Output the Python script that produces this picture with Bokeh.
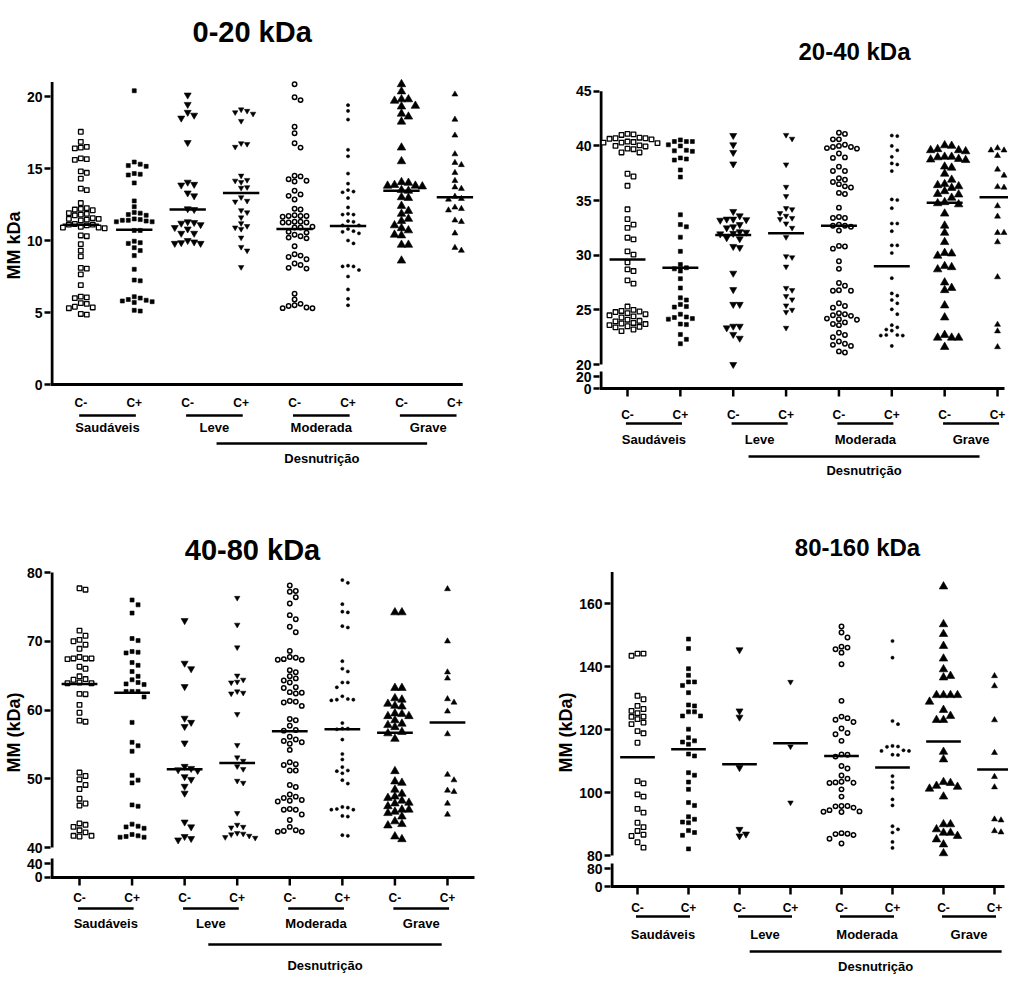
import numpy as np
from bokeh.plotting import figure
from bokeh.layouts import column, row
from bokeh.models import FixedTicker, Range1d
from bokeh.core.properties import value
from bokeh.embed import file_html
from bokeh.resources import INLINE

FONT = "Liberation Sans"

# ---------------- data ----------------
categories = ["C-", "C+", "C-", "C+", "C-", "C+", "C-", "C+"]
groups = ["Saudáveis", "Leve", "Moderada", "Grave"]
supergroup = "Desnutrição"
titles = ["0-20 kDa", "20-40 kDa", "40-80 kDa", "80-160 kDa"]
y_labels = ["MM kDa", "", "MM (kDa)", "MM (kDa)"]
y_ticks_p1 = [0, 5, 10, 15, 20]
y_ticks_p2 = [20, 25, 30, 35, 40, 45]
y_ticks_p3 = [40, 50, 60, 70, 80]
y_ticks_p4 = [80, 100, 120, 140, 160]
break_labels = [None, ("20", "0"), ("40", "0"), ("80", "0")]

# Panel 1: 0-20 kDa
p1_saud_neg = [17.55, 16.85, 16.45, 16.4, 16.5, 15.65, 15.6, 15.7, 14.8, 14.7, 14.3, 13.6, 13.5, 12.6, 12.2,
               12.25, 12.1, 12.15, 11.8, 11.85, 11.75, 11.9, 11.5, 11.45, 11.55, 11.5, 11.4, 11.1, 11.15, 11.05,
               11.1, 10.9, 10.95, 10.85, 10.9, 10.3, 10.35, 9.75, 9.3, 8.9, 8.1, 8.05, 7.65, 6.9, 6.05, 6.0, 6.1,
               5.65, 5.6, 5.35, 5.3, 5.4, 4.9, 4.85]
p1_saud_pos = [20.4, 15.45, 15.3, 15.2, 15.15, 14.6, 14.55, 14.65, 14.0, 12.75, 12.35, 11.9, 11.8, 11.75, 11.95,
               11.4, 11.3, 11.35, 11.4, 11.45, 11.3, 11.5, 10.7, 10.7, 9.95, 9.85, 9.8, 9.5, 9.3, 8.95, 8.0, 7.25,
               7.2, 6.1, 6.0, 5.85, 5.8, 5.75, 5.7, 5.9, 5.15, 5.1]
p1_leve_neg = [20.1, 19.45, 18.9, 18.7, 18.5, 16.8, 13.9, 13.85, 14.05, 13.3, 13.1, 12.2, 12.15, 11.3, 11.2, 11.1,
               11.25, 10.9, 10.8, 10.5, 10.5, 10.0, 9.9, 9.8, 9.8, 9.85]
p1_leve_pos = [19.1, 18.9, 18.8, 19.0, 18.3, 16.7, 16.5, 16.75, 14.5, 14.2, 14.05, 14.15, 13.7, 13.65, 13.0, 12.7,
               12.75, 12.1, 11.95, 11.6, 11.2, 11.0, 10.8, 10.9, 10.2, 9.55, 9.3, 8.15]
p1_mod_neg = [20.85, 19.95, 19.75, 17.9, 17.45, 16.75, 16.45, 14.5, 14.45, 14.1, 14.15, 14.25, 13.45, 13.2, 13.1,
              12.85, 12.15, 12.2, 11.7, 11.65, 11.7, 11.7, 11.75, 11.25, 11.3, 11.3, 11.25, 11.25, 10.9, 10.95,
              10.9, 10.6, 10.55, 10.4, 10.2, 10.3, 10.15, 9.6, 9.05, 8.95, 8.85, 8.7, 8.4, 8.3, 8.1, 8.05, 6.3,
              5.9, 5.6, 5.45, 5.3, 5.3, 5.35, 5.5]
p1_mod_pos = [19.4, 19.0, 18.4, 16.3, 15.85, 14.65, 13.95, 13.4, 13.5, 13.35, 12.95, 12.3, 11.8, 11.85, 11.8,
              11.35, 11.3, 11.05, 11.05, 10.8, 10.6, 10.65, 10.5, 10.0, 9.8, 8.25, 8.2, 7.95, 8.2, 7.5, 6.6,
              5.95, 5.5]
p1_grave_neg = [20.85, 20.35, 19.8, 19.7, 19.8, 19.35, 19.3, 18.8, 18.6, 18.25, 16.45, 15.5, 14.05, 14.0, 13.8,
                13.8, 13.75, 13.85, 13.5, 13.45, 13.0, 12.95, 12.4, 12.05, 11.85, 11.5, 11.35, 11.05, 10.85,
                10.7, 10.35, 10.4, 9.7, 9.7, 8.6]
p1_grave_pos = [20.15, 18.4, 17.3, 16.0, 15.4, 15.25, 14.7, 14.15, 13.7, 13.6, 13.05, 12.9, 12.85, 12.3, 12.2,
                12.1, 11.4, 11.3, 10.5, 9.5, 9.3]
p1_medians = [11.1, 10.75, 12.15, 13.3, 10.8, 11.0, 13.45, 13.0]

# Panel 2: 20-40 kDa
p2_saud_neg = [41.1, 41.0, 41.05, 40.7, 40.75, 40.6, 40.7, 40.65, 40.3, 40.35, 40.25, 40.3, 40.4, 40.0, 40.05,
               39.95, 39.7, 39.75, 39.4, 39.4, 37.45, 37.2, 36.35, 34.2, 33.3, 32.8, 32.5, 31.6, 31.45, 30.35,
               30.05, 29.35, 28.7, 28.55, 27.7, 27.4, 25.3, 25.0, 24.9, 24.85, 24.8, 24.7, 24.6, 24.5, 24.4,
               24.3, 24.1, 24.0, 23.95, 23.8, 23.7, 23.75, 23.6, 23.5, 23.45, 23.4, 23.2, 23.05]
p2_saud_pos = [40.55, 40.4, 40.4, 40.4, 40.1, 40.0, 39.6, 39.5, 39.55, 38.9, 38.8, 38.7, 37.8, 37.15, 33.7, 32.8,
               32.6, 31.65, 30.35, 29.15, 28.85, 28.75, 28.55, 27.85, 27.0, 26.1, 25.9, 25.5, 25.3, 25.25, 24.6,
               24.3, 24.2, 24.15, 24.35, 23.65, 23.7, 22.75, 22.3, 21.9]
p2_leve_neg = [40.95, 40.1, 39.4, 38.35, 34.0, 33.6, 33.3, 33.2, 33.25, 33.3, 32.8, 32.6, 32.5, 32.1, 32.15, 32.0,
               31.95, 31.6, 31.5, 30.8, 30.7, 28.35, 26.85, 25.5, 25.5, 23.5, 23.35, 23.5, 22.75, 22.4, 20.0]
p2_leve_pos = [41.0, 40.65, 38.3, 36.25, 35.4, 34.3, 34.2, 33.85, 33.4, 33.3, 33.6, 32.9, 32.5, 31.65, 29.9, 29.8,
               28.95, 27.0, 26.8, 26.25, 25.95, 25.4, 25.0, 24.8, 23.35]
p2_mod_neg = [41.2, 41.1, 40.6, 40.6, 40.0, 40.1, 39.9, 39.8, 39.75, 39.9, 39.3, 38.9, 38.95, 38.1, 37.7, 37.7,
              37.05, 36.7, 36.9, 36.5, 36.3, 36.2, 35.6, 35.7, 34.35, 33.5, 33.4, 33.4, 32.8, 32.7, 32.6, 32.7,
              32.25, 30.85, 30.6, 30.8, 29.45, 28.75, 27.45, 27.2, 26.8, 26.75, 26.75, 25.6, 25.2, 25.35, 24.7,
              24.5, 24.6, 24.45, 24.2, 24.1, 24.15, 23.85, 23.7, 23.6, 22.9, 22.7, 22.5, 22.1, 21.9, 21.8, 21.7,
              21.2, 21.1]
p2_mod_pos = [40.9, 40.95, 40.0, 39.6, 39.0, 38.4, 38.3, 37.7, 35.1, 35.05, 34.3, 32.9, 32.9, 32.2, 30.9, 30.9,
              30.2, 27.9, 26.5, 26.3, 25.9, 25.6, 25.05, 24.6, 23.6, 23.2, 23.1, 23.4, 22.65, 22.7, 22.65, 22.7,
              21.7]
p2_grave_neg = [40.05, 40.0, 39.7, 39.6, 39.5, 39.6, 39.0, 38.95, 39.0, 38.75, 38.7, 38.8, 38.1, 38.0, 37.45,
                36.9, 36.5, 36.3, 36.15, 36.4, 35.85, 35.55, 35.6, 35.25, 34.85, 34.75, 34.65, 33.8, 32.7, 32.05,
                31.2, 30.15, 29.95, 30.2, 29.0, 28.7, 28.9, 27.5, 27.0, 26.8, 25.4, 24.3, 22.7, 22.45, 22.45,
                22.45, 21.6]
p2_grave_pos = [39.8, 39.6, 39.6, 39.1, 37.85, 37.3, 36.25, 36.2, 34.5, 33.55, 32.05, 32.05, 31.2, 28.0, 23.65,
                23.05, 21.6]
p2_medians = [29.6, 28.85, 31.85, 32.0, 32.7, 29.0, 34.8, 35.3]

# Panel 3: 40-80 kDa
p3_saud_neg = [77.7, 77.5, 71.55, 70.8, 70.2, 70.0, 69.5, 68.9, 67.7, 67.5, 67.4, 67.5, 67.5, 66.3, 66.0, 64.9,
               64.5, 64.4, 64.0, 63.9, 63.9, 62.35, 62.3, 60.75, 59.6, 58.45, 58.3, 50.9, 50.4, 49.9, 49.1, 48.5,
               47.1, 46.4, 46.1, 43.5, 43.3, 43.0, 42.5, 42.2, 41.7, 41.6, 41.7]
p3_saud_pos = [76.0, 75.3, 74.1, 70.4, 70.1, 68.5, 68.3, 68.4, 66.9, 66.5, 65.6, 64.9, 64.4, 64.0, 63.8, 63.7,
               62.7, 62.7, 62.7, 61.9, 58.2, 55.3, 54.8, 54.0, 50.5, 49.8, 49.4, 46.2, 46.0, 43.4, 43.0, 42.8,
               43.1, 41.9, 41.6, 41.5, 41.5, 41.7]
p3_leve_neg = [73.0, 66.8, 66.0, 63.4, 58.8, 58.2, 57.6, 55.2, 51.8, 51.3, 51.5, 51.2, 50.3, 49.9, 48.9, 47.9,
               43.7, 43.0, 41.6, 41.1, 41.3]
p3_leve_pos = [76.3, 72.4, 69.1, 65.0, 64.4, 64.1, 64.0, 62.7, 62.5, 62.4, 59.4, 54.9, 53.1, 52.6, 51.8, 51.4,
               49.7, 49.4, 45.0, 43.3, 43.0, 42.9, 42.0, 41.7, 41.4, 41.5, 41.9, 42.1]
p3_mod_neg = [78.1, 77.2, 77.3, 76.4, 75.5, 73.8, 73.2, 72.1, 71.3, 68.6, 67.7, 67.3, 67.3, 67.4, 67.6, 65.8,
              65.5, 64.9, 64.6, 64.3, 64.0, 63.2, 63.3, 62.6, 62.5, 62.4, 61.2, 61.3, 61.1, 60.6, 58.7, 58.5,
              57.7, 57.1, 57.0, 56.1, 55.7, 55.5, 55.1, 55.3, 54.2, 52.4, 52.1, 52.0, 51.2, 51.2, 49.1, 48.8,
              47.7, 47.4, 46.8, 46.9, 46.7, 47.2, 45.5, 45.5, 45.6, 44.8, 44.0, 43.0, 42.3, 42.4, 42.5, 42.3]
p3_mod_pos = [78.9, 78.5, 75.4, 74.3, 74.2, 72.2, 72.0, 67.1, 66.0, 65.6, 64.0, 63.3, 64.0, 62.0, 61.5, 61.4,
              61.5, 61.6, 58.1, 57.3, 57.2, 57.3, 55.7, 53.6, 52.8, 51.7, 51.1, 51.2, 50.8, 49.8, 49.3, 45.9,
              45.5, 45.6, 45.5, 45.8, 44.5, 44.6, 41.8, 41.7]
p3_grave_neg = [74.2, 74.2, 63.2, 63.2, 61.7, 61.5, 60.9, 60.5, 60.6, 59.5, 59.1, 59.4, 59.1, 58.5, 57.8, 58.0,
                57.5, 56.8, 56.6, 55.8, 51.1, 49.6, 49.4, 48.4, 47.8, 47.4, 47.2, 46.8, 46.5, 46.4, 46.0, 45.5,
                45.0, 45.5, 45.2, 44.5, 43.8, 43.4, 43.2, 41.6, 41.2]
p3_grave_pos = [77.6, 70.0, 65.5, 64.6, 61.6, 61.1, 59.8, 56.5, 50.6, 49.8, 48.3, 48.1, 46.4, 44.8]
p3_medians = [63.8, 62.5, 51.4, 52.3, 56.9, 57.2, 56.7, 58.2]

# Panel 4: 80-160 kDa
p4_saud_neg = [144.1, 143.4, 144.1, 130.7, 129.6, 127.5, 126.5, 125.9, 125.2, 124.1, 123.3, 124.0, 122.2, 121.7,
               119.5, 118.8, 115.8, 103.6, 102.9, 99.4, 98.7, 94.8, 93.6, 90.4, 89.0, 87.8, 86.2, 86.6, 84.2, 82.5]
p4_saud_pos = [148.7, 145.7, 139.3, 137.2, 135.1, 135.1, 134.0, 131.7, 127.8, 127.5, 125.6, 125.6, 124.3, 124.3,
               120.1, 117.4, 116.4, 116.0, 115.3, 112.2, 111.6, 106.3, 105.5, 103.3, 101.0, 96.8, 95.9, 92.3,
               91.5, 90.4, 90.6, 87.9, 86.4, 87.3, 82.1]
p4_leve_neg = [145.3, 125.9, 123.9, 107.9, 88.3, 86.2, 86.8]
p4_leve_pos = [135.1, 114.6, 96.8]
p4_mod_neg = [152.7, 150.8, 149.2, 146.3, 145.5, 146.0, 144.4, 140.7, 129.1, 124.1, 123.1, 122.4, 123.6, 120.3,
              118.9, 118.5, 116.4, 112.1, 112.0, 111.4, 108.4, 107.6, 105.4, 104.4, 103.2, 103.4, 103.0, 103.1,
              101.0, 98.7, 95.7, 95.6, 95.7, 95.2, 94.4, 93.8, 93.9, 94.0, 87.1, 86.9, 86.5, 86.8, 85.3, 83.8]
p4_mod_pos = [148.1, 142.8, 122.7, 121.7, 114.5, 114.6, 114.8, 113.2, 113.2, 113.4, 111.9, 112.0, 105.2, 103.3,
              101.5, 97.8, 95.9, 89.3, 87.3, 88.3, 84.3, 82.4]
p4_grave_neg = [165.4, 153.4, 150.3, 146.5, 142.5, 139.1, 136.5, 137.0, 130.9, 130.9, 130.9, 130.9, 128.8, 126.2,
                124.3, 123.0, 123.0, 112.9, 110.5, 103.3, 101.2, 103.0, 102.1, 101.8, 98.7, 89.9, 88.3, 89.9,
                87.2, 86.2, 87.2, 85.1, 83.5, 80.7]
p4_grave_pos = [137.0, 133.8, 123.0, 112.6, 105.0, 101.7, 91.5, 91.2, 87.8, 87.4]
p4_medians = [111.2, 113.7, 109.0, 115.6, 111.6, 107.9, 116.2, 107.3]

# ---------------- styles (per group, same in all panels) ----------------
STYLES = [
    dict(marker="square", size=4.6, fill_color="white", line_color="black", line_width=1.3, step=6.0),
    dict(marker="square", size=4.0, fill_color="black", line_color="black", line_width=0.6, step=6.0),
    dict(marker="inverted_triangle", size=7.0, fill_color="black", line_color="black", line_width=0.6, step=6.5),
    dict(marker="inverted_triangle", size=5.5, fill_color="black", line_color="black", line_width=0.5, step=6.0),
    dict(marker="circle", size=4.4, fill_color="white", line_color="black", line_width=1.5, step=6.0),
    dict(marker="circle", size=3.2, fill_color="black", line_color="black", line_width=0.5, step=5.5),
    dict(marker="triangle", size=8.5, fill_color="black", line_color="black", line_width=0.6, step=7.0),
    dict(marker="triangle", size=6.0, fill_color="black", line_color="black", line_width=0.5, step=6.5),
]

# the rendered page sits about 7 px higher than a plain 8 px margin would give
DY = 7

# layout of each panel in target-picture pixels; the frame spans the full canvas height
CFG = [
    dict(origin=(8, 8), size=(504, 490), left=55, yref=(0, 385), ppu=14.4,
         x1=85.5, sp=53.8, axis_px=385, axis_top=21.0, x_end=470, xticks=False, brk_px=None,
         off=(18, 31, 43, 59, 74), desn=(3.54, 7.48), title_c=(258, 32), title_px=29),
    dict(origin=(512, 8), size=(504, 490), left=607, yref=(20, 365), ppu=10.93,
         x1=635, sp=52.86, axis_px=389, axis_top=45.0, x_end=1012, xticks=True, brk_px=377,
         off=(26, 35, 51, 68, 82), desn=(3.29, 7.66), title_c=(862, 52), title_px=24),
    dict(origin=(8, 498), size=(504, 484), left=58, yref=(40, 848), ppu=6.875,
         x1=87, sp=52.57, axis_px=878, axis_top=80.0, x_end=482, xticks=True, brk_px=864,
         off=(20, 31, 46, 67, 88), desn=(3.45, 7.89), title_c=(260, 550), title_px=29),
    dict(origin=(512, 498), size=(504, 484), left=618, yref=(80, 856), ppu=3.15,
         x1=645, sp=51.0, axis_px=887, axis_top=170.0, x_end=1012, xticks=True, brk_px=869,
         off=(21, 30, 48, 65, 80), desn=(3.2, 8.14), title_c=(865, 548), title_px=24),
]


def swarm(vals, ppu, step):
    vals = np.asarray(vals, float)
    order = np.argsort(-vals, kind="stable")
    placed = []
    offs = np.zeros(len(vals))
    cand = [0.0]
    for k in range(1, 15):
        cand += [k, -k]
    for i in order:
        y = vals[i] * ppu
        x = 0.0
        for k in cand:
            x = k * step
            if all((x - px) ** 2 + (y - py) ** 2 >= (step * 0.95) ** 2 for px, py in placed):
                break
        placed.append((x, y))
        offs[i] = x
    return offs


def make_panel(title, ylabel, ticks, brk, series, medians, cfg):
    ox, oy = cfg["origin"]
    oy = oy - DY
    W, H = cfg["size"]
    fl = cfg["left"]
    fr, ft, fb = ox + W, oy, oy + H
    v0, px0 = cfg["yref"]
    ppu = cfg["ppu"]
    x1, sp = cfg["x1"], cfg["sp"]

    def yv(py):
        return v0 + (px0 - py) / ppu

    def xv(px):
        return 1 + (px - x1) / sp

    p = figure(width=W, height=H, x_range=Range1d(xv(fl), xv(fr)), y_range=Range1d(yv(fb), yv(ft)),
               output_backend="svg", toolbar_location=None, x_axis_location=None,
               min_border_left=fl - ox, min_border_right=0, min_border_top=0, min_border_bottom=0)
    p.outline_line_color = None
    p.xgrid.visible = False
    p.ygrid.visible = False
    p.background_fill_color = "white"
    p.border_fill_color = "white"

    lab = dict(text_font=value(FONT), text_font_style="bold", text_color="black",
               text_align="center", text_baseline="middle")

    # title
    tcx, tcy = cfg["title_c"]
    p.text(x=[xv(tcx)], y=[yv(tcy)], text=[title], text_font_size=f"{cfg['title_px']}px", **lab)

    # y axis
    ax = p.yaxis[0]
    axis_y = yv(cfg["axis_px"])
    tick_vals = [float(t) for t in ticks]
    overrides = {float(t): str(t) for t in ticks}
    if brk is not None:
        bv = round(yv(cfg["brk_px"]), 4)
        zv = round(axis_y, 4)
        tick_vals += [bv, zv]
        overrides[bv] = brk[0]
        overrides[zv] = brk[1]
    ax.ticker = FixedTicker(ticks=tick_vals)
    ax.major_label_overrides = overrides
    ax.axis_line_color = None
    ax.major_tick_line_color = "black"
    ax.major_tick_line_width = 2.5
    ax.major_tick_out = 6
    ax.major_tick_in = 0
    ax.minor_tick_line_color = None
    ax.major_label_text_font = FONT
    ax.major_label_text_font_style = "bold"
    ax.major_label_text_font_size = "14px"
    ax.major_label_text_color = "black"
    ax.major_label_standoff = 2
    ax.axis_label = ylabel if ylabel else None
    ax.axis_label_text_font = FONT
    ax.axis_label_text_font_style = "bold"
    ax.axis_label_text_font_size = "18px"
    ax.axis_label_text_color = "black"
    ax.axis_label_standoff = 0

    # axis lines
    xa = xv(fl + 1.5)
    if brk is None:
        p.segment(x0=[xa], y0=[axis_y], x1=[xa], y1=[cfg["axis_top"]], line_width=3, line_color="black")
    else:
        p.segment(x0=[xa], y0=[ticks[0]], x1=[xa], y1=[cfg["axis_top"]], line_width=3, line_color="black")
        p.segment(x0=[xa], y0=[yv(cfg["brk_px"] - 5)], x1=[xa], y1=[axis_y], line_width=3, line_color="black")
    p.segment(x0=[xv(fl)], y0=[axis_y], x1=[xv(cfg["x_end"])], y1=[axis_y], line_width=3, line_color="black")

    cats = np.arange(1, 9, dtype=float)
    if cfg["xticks"]:
        p.segment(x0=cats, y0=[axis_y] * 8, x1=cats, y1=[yv(cfg["axis_px"] + 8)] * 8,
                  line_width=2.5, line_color="black")

    # points
    for g, vals in enumerate(series):
        st = STYLES[g]
        offs = swarm(vals, ppu, st["step"])
        xs = (g + 1) + offs / sp
        p.scatter(x=xs, y=vals, marker=st["marker"], size=st["size"], fill_color=st["fill_color"],
                  line_color=st["line_color"], line_width=st["line_width"])

    # medians
    p.segment(x0=cats - 0.34, y0=medians, x1=cats + 0.34, y1=medians, line_width=2.5, line_color="black")

    # x labels
    o_c, o_u, o_g, o_dl, o_dt = cfg["off"]
    p.text(x=cats, y=[yv(cfg["axis_px"] + o_c)] * 8, text=categories, text_font_size="12px", **lab)
    gx0 = cats[0::2] - 0.03
    gx1 = cats[1::2] + 0.03
    yu = yv(cfg["axis_px"] + o_u)
    p.segment(x0=gx0, y0=[yu] * 4, x1=gx1, y1=[yu] * 4, line_width=2.5, line_color="black")
    p.text(x=(cats[0::2] + cats[1::2]) / 2, y=[yv(cfg["axis_px"] + o_g)] * 4, text=groups,
           text_font_size="13px", **lab)
    d0, d1 = cfg["desn"]
    yd = yv(cfg["axis_px"] + o_dl)
    p.segment(x0=[d0], y0=[yd], x1=[d1], y1=[yd], line_width=2.5, line_color="black")
    p.text(x=[(d0 + d1) / 2], y=[yv(cfg["axis_px"] + o_dt)], text=[supergroup], text_font_size="13px", **lab)
    return p


panel_series = [
    [p1_saud_neg, p1_saud_pos, p1_leve_neg, p1_leve_pos, p1_mod_neg, p1_mod_pos, p1_grave_neg, p1_grave_pos],
    [p2_saud_neg, p2_saud_pos, p2_leve_neg, p2_leve_pos, p2_mod_neg, p2_mod_pos, p2_grave_neg, p2_grave_pos],
    [p3_saud_neg, p3_saud_pos, p3_leve_neg, p3_leve_pos, p3_mod_neg, p3_mod_pos, p3_grave_neg, p3_grave_pos],
    [p4_saud_neg, p4_saud_pos, p4_leve_neg, p4_leve_pos, p4_mod_neg, p4_mod_pos, p4_grave_neg, p4_grave_pos],
]
panel_medians = [p1_medians, p2_medians, p3_medians, p4_medians]
panel_ticks = [y_ticks_p1, y_ticks_p2, y_ticks_p3, y_ticks_p4]

figs = [make_panel(titles[i], y_labels[i], panel_ticks[i], break_labels[i], panel_series[i],
                   panel_medians[i], CFG[i]) for i in range(4)]

layout = column(row(figs[0], figs[1], spacing=0), row(figs[2], figs[3], spacing=0), spacing=0)
open("out.html", "w").write(file_html(layout, INLINE))
